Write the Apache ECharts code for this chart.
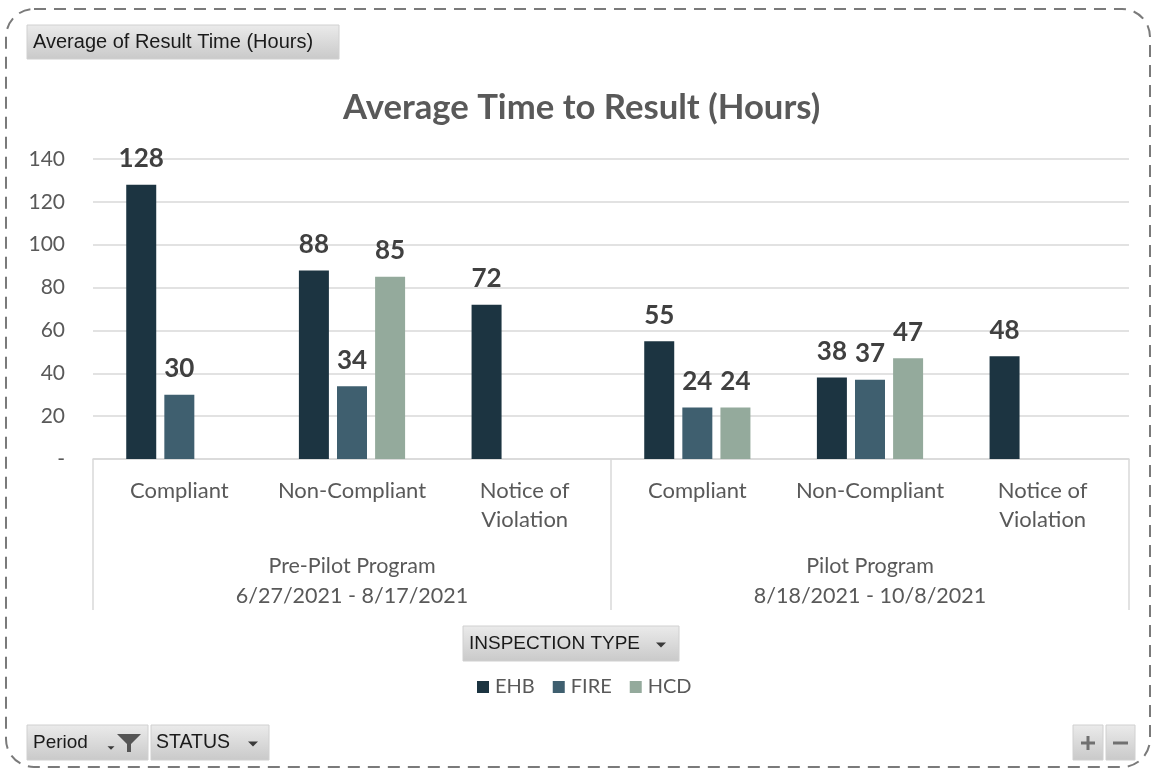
<!DOCTYPE html>
<html><head><meta charset="utf-8">
<script src="https://cdn.jsdelivr.net/npm/echarts@6/dist/echarts.min.js"></script>
<style>html,body{margin:0;padding:0;background:#fff}#c{width:1156px;height:772px}</style>
</head><body><div id="c"></div>
<script>
const categories = ['Compliant','Non-Compliant','Notice of\nViolation','Compliant','Non-Compliant','Notice of\nViolation'];
const groups = ['Pre-Pilot Program\n6/27/2021 - 8/17/2021','Pilot Program\n8/18/2021 - 10/8/2021'];
const seriesNames = ['EHB','FIRE','HCD'];
const ehb  = [128, 88, 72, 55, 38, 48];
const fire = [30, 34, null, 24, 37, null];
const hcd  = [null, 85, null, 24, 47, null];
const colors = ['#1c3441','#3f5f6f','#94aa9c'];
const yTicks = {min:0, max:140, interval:20};

const F = 'Lato, "Open Sans", sans-serif';
const BF = '"Liberation Sans", Arial, sans-serif';
const chart = echarts.init(document.getElementById('c'), null, {renderer:'canvas'});

const btnFill = new echarts.graphic.LinearGradient(0,0,0,1,[{offset:0,color:'#ebebeb'},{offset:1,color:'#c9c9c9'}]);
function button(x,y,w,h){
  return {type:'rect', shape:{x:x,y:y,width:w,height:h}, style:{fill:btnFill, stroke:'#d0d0d0', lineWidth:1}, silent:true};
}
function text(x,y,t,size){
  return {type:'text', x:x, y:y, style:{text:t, font:size+'px '+BF, fill:'#1a1a1a', textVerticalAlign:'middle'}, silent:true};
}
function tri(cx,cy,w){
  return {type:'polygon', shape:{points:[[cx-w/2,cy-w/4],[cx+w/2,cy-w/4],[cx,cy+w/4]]}, style:{fill:'#3a3a3a'}, silent:true};
}

const mkSeries = (name, data, i) => ({
  name: name, type:'bar', data: data, barWidth:30, barGap:'27%',
  itemStyle:{color:colors[i]},
  label:{show:true, position:'top', distance:13, color:'#404040', fontSize:26, fontWeight:'bold', fontFamily:F},
  xAxisIndex:0, yAxisIndex:0
});

chart.setOption({
  animation:false,
  title:{text:'Average Time to Result (Hours)', left:338, top:85, textStyle:{fontFamily:F, fontSize:34.7, fontWeight:'bold', color:'#595959'}},
  legend:{data:seriesNames, top:672, left:472, itemWidth:12, itemHeight:12, itemGap:18, icon:'rect',
    textStyle:{fontFamily:F, fontSize:20, color:'#595959', padding:[0,0,0,1]}},
  grid:{left:93, right:27, top:159, bottom:313, containLabel:false},
  xAxis:[
    {type:'category', data:categories, position:'bottom',
     axisLine:{show:true, lineStyle:{color:'#d9d9d9', width:1.5}},
     axisTick:{show:false},
     axisLabel:{interval:0, margin:17, fontFamily:F, fontSize:22, color:'#595959', lineHeight:29}},
    {type:'category', data:groups, position:'bottom',
     axisLine:{show:false},
     axisTick:{show:true, length:151, lineStyle:{color:'#d9d9d9', width:1.5}},
     axisLabel:{interval:0, margin:92, fontFamily:F, fontSize:21.5, color:'#595959', lineHeight:30}}
  ],
  yAxis:{type:'value', min:yTicks.min, max:yTicks.max, interval:yTicks.interval,
    axisLine:{show:false}, axisTick:{show:false},
    splitLine:{lineStyle:{color:'#d9d9d9', width:1.5}},
    axisLabel:{margin:28, fontFamily:F, fontSize:21, color:'#595959', formatter:v=> v===0?'-':String(v)}},
  series:[mkSeries('EHB',ehb,0), mkSeries('FIRE',fire,1), mkSeries('HCD',hcd,2)],
  graphic:[
    {type:'rect', shape:{x:6,y:9,width:1144,height:758,r:28}, style:{fill:'none', stroke:'#7a7a7a', lineWidth:2, lineDash:[12,8]}, silent:true},
    button(27,25,312,34), text(33,42,'Average of Result Time (Hours)',20),
    button(463,626,216,35), text(469,644,'INSPECTION TYPE',19), tri(661,645,10),
    button(27,725,121,35), text(33,743,'Period',19),
    {type:'polygon', shape:{points:[[117,734],[141,734],[131,744],[131,752],[127,752],[127,744]]}, style:{fill:'#555'}, silent:true},
    tri(111,748,7),
    button(151,725,118,35), text(156,743,'STATUS',19.5), tri(253,744,10),
    button(1073,725,30,35), button(1106,725,29,35),
    {type:'rect', shape:{x:1081,y:741.5,width:14,height:3}, style:{fill:'#707070'}, silent:true},
    {type:'rect', shape:{x:1086.5,y:736,width:3,height:14}, style:{fill:'#707070'}, silent:true},
    {type:'rect', shape:{x:1113,y:741.5,width:15,height:3}, style:{fill:'#707070'}, silent:true}
  ]
});
</script></body></html>
